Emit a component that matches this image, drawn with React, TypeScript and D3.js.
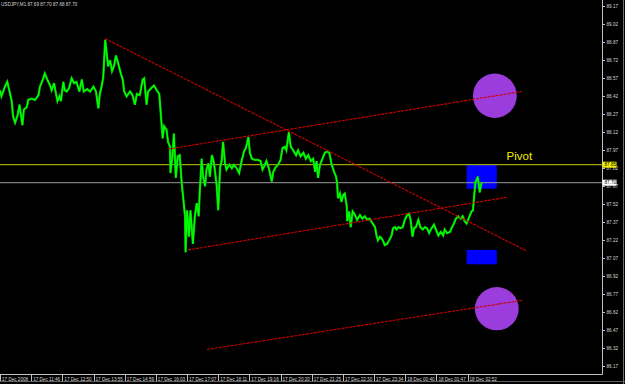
import React from "react";
import * as d3 from "d3";

const chartTitle = "USDJPY,M1  87.69 87.70 87.68 87.70";

// [minute offset from 17 Dec 10:42, close]
const priceSeries: [number, number][] = [
  [0, 88.47], [3, 88.42], [10, 88.5], [15, 88.54], [19, 88.47], [24, 88.38], [27, 88.25], [31, 88.2],
  [36, 88.26], [40, 88.35], [42, 88.29], [46, 88.18], [49, 88.31], [55, 88.33], [58, 88.39], [65, 88.4],
  [72, 88.39], [79, 88.43], [82, 88.5], [88, 88.56], [92, 88.61], [97, 88.56], [103, 88.51], [106, 88.47],
  [111, 88.53], [115, 88.44], [118, 88.38], [122, 88.42], [125, 88.38], [130, 88.54], [133, 88.47], [137, 88.46],
  [142, 88.49], [147, 88.57], [152, 88.53], [157, 88.54], [163, 88.46], [168, 88.56], [172, 88.46], [179, 88.48],
  [185, 88.46], [192, 88.5], [197, 88.46], [202, 88.32], [205, 88.44], [209, 88.51], [212, 88.58], [216, 88.89],
  [219, 88.78], [222, 88.67], [226, 88.72], [230, 88.63], [234, 88.67], [238, 88.76], [243, 88.69], [248, 88.61],
  [252, 88.56], [255, 88.46], [260, 88.42], [267, 88.46], [272, 88.43], [277, 88.35], [281, 88.44], [287, 88.43],
  [293, 88.56], [296, 88.57], [301, 88.35], [304, 88.46], [311, 88.49], [316, 88.51], [322, 88.47], [327, 88.44],
  [330, 88.28], [334, 88.07], [337, 88.17], [342, 88.14], [345, 88.04], [349, 88.0], [350, 87.78], [354, 87.92],
  [357, 88.11], [361, 87.74], [365, 87.92], [369, 87.93], [373, 87.7], [376, 87.58], [380, 87.42], [381, 87.12],
  [384, 87.47], [388, 87.25], [391, 87.47], [396, 87.19], [400, 87.42], [404, 87.53], [408, 87.42],
  [410, 87.61], [414, 87.9], [417, 87.75], [421, 87.67], [424, 87.81], [428, 87.86], [431, 87.75], [435, 87.93],
  [438, 87.89], [441, 87.81], [445, 87.67], [448, 87.47], [452, 87.83], [455, 87.88], [458, 88.04], [462, 87.86],
  [465, 87.81], [471, 87.85], [476, 87.82], [480, 87.85], [486, 87.82], [491, 87.78], [496, 87.88], [501, 87.96],
  [505, 87.99], [510, 88.08], [513, 87.95], [517, 87.9], [523, 87.89], [530, 87.89], [535, 87.88], [539, 87.81],
  [544, 87.85], [547, 87.88], [552, 87.82], [558, 87.71], [561, 87.79], [566, 87.83], [571, 87.85], [576, 87.89],
  [580, 87.99], [585, 88.0], [588, 87.97], [593, 88.12], [597, 88.0], [602, 87.97], [608, 87.93], [612, 87.97],
  [617, 87.92], [623, 87.95], [628, 87.9], [633, 87.93], [638, 87.88], [643, 87.9], [647, 87.79], [650, 87.88],
  [653, 87.74], [657, 87.85], [662, 87.9], [667, 87.95], [672, 87.96], [676, 87.95],
  [681, 87.85], [686, 87.79], [690, 87.75], [692, 87.7], [694, 87.57], [698, 87.61], [701, 87.54], [705, 87.6],
  [708, 87.61], [712, 87.5], [713, 87.38], [717, 87.46], [720, 87.33], [724, 87.46], [729, 87.43], [733, 87.39],
  [739, 87.43], [744, 87.4], [749, 87.42], [754, 87.39], [759, 87.4], [765, 87.36], [770, 87.33], [773, 87.26],
  [776, 87.22], [780, 87.25], [783, 87.24], [787, 87.21], [790, 87.18], [795, 87.19], [799, 87.22], [804, 87.26],
  [807, 87.32], [811, 87.33], [814, 87.31], [818, 87.33], [822, 87.32], [827, 87.33], [831, 87.39], [836, 87.43],
  [840, 87.44], [843, 87.39], [847, 87.25], [850, 87.32], [854, 87.33], [859, 87.39], [863, 87.33], [868, 87.31],
  [872, 87.33], [877, 87.32], [881, 87.28], [886, 87.32], [891, 87.35], [895, 87.31], [900, 87.26], [905, 87.29],
  [910, 87.26], [913, 87.31], [918, 87.28], [924, 87.29], [927, 87.32], [932, 87.36], [936, 87.4], [941, 87.42],
  [946, 87.4], [950, 87.42], [954, 87.38], [958, 87.36], [961, 87.39], [965, 87.43], [968, 87.46], [971, 87.47],
  [974, 87.61], [976, 87.7], [978, 87.72], [981, 87.75], [983, 87.68], [985, 87.62], [987, 87.67], [989, 87.7],
];

const priceTicks = [
  89.17, 89.02, 88.87, 88.72, 88.57, 88.42, 88.27, 88.12, 87.97, 87.82, 87.67,
  87.52, 87.37, 87.22, 87.07, 86.92, 86.77, 86.62, 86.47, 86.32, 86.17,
];

const timeTickBars = [0, 64, 128, 192, 256, 320, 384, 448, 512, 576, 640, 704, 768, 832, 896, 960];
const timeTickLabels = [
  "17 Dec 2008", "17 Dec 11:46", "17 Dec 12:50", "17 Dec 13:55", "17 Dec 14:59", "17 Dec 16:03",
  "17 Dec 17:07", "17 Dec 18:11", "17 Dec 19:16", "17 Dec 20:20", "17 Dec 21:25", "17 Dec 22:30",
  "17 Dec 23:34", "18 Dec 00:40", "18 Dec 01:47", "18 Dec 02:52",
];

const pivotLevel = 87.85;
const bidLevel = 87.7;

// [bar1, price1, bar2, price2]
const trendLines: [number, number, number, number][] = [
  [216, 88.9, 1082, 87.13],
  [345, 87.98, 1071, 88.46],
  [386, 87.14, 1043, 87.58],
  [425, 86.31, 1073, 86.72],
];

// [bar1, priceTop, bar2, priceBottom]
const zoneRects: [number, number, number, number][] = [
  [958, 87.85, 1020, 87.65],
  [958, 87.14, 1020, 87.02],
];

const ellipseBoxes: [number, number, number, number][] = [
  [971, 88.61, 1061, 88.24],
  [975, 86.83, 1065, 86.47],
];

const pivotText = "Pivot";
const pivotTextAnchor: [number, number] = [1040, 87.89];

const W = 625;
const H = 384;
const PR = 602;
const PB = 374;

export default function App() {
  const x = d3.scaleLinear().domain([0, 1236]).range([0, PR]);
  const y = d3.scaleLinear().domain([88.72, 86.17]).range([60.3, 366.3]);
  const line = d3
    .line<[number, number]>()
    .x((d) => x(d[0]))
    .y((d) => y(d[1]));
  const path = line(priceSeries) || "";
  const font = "'Liberation Sans', Arial, sans-serif";
  const fs = 4.6;
  const txt = "#d8d8d8";

  return (
    <div style={{ position: "absolute", left: 0, top: 0 }}>
      <svg width={W} height={H} style={{ display: "block", background: "#000" }}>
        <rect x={0} y={0} width={W} height={H} fill="#000" />
        <defs>
          <clipPath id="plot">
            <rect x={0} y={0} width={PR} height={PB} />
          </clipPath>
        </defs>
        <g clipPath="url(#plot)">
          {zoneRects.map((r, i) => (
            <rect
              key={"z" + i}
              x={x(r[0])}
              y={y(r[1])}
              width={x(r[2]) - x(r[0])}
              height={y(r[3]) - y(r[1])}
              fill="#0000ff"
            />
          ))}
          {ellipseBoxes.map((e, i) => (
            <ellipse
              key={"e" + i}
              cx={(x(e[0]) + x(e[2])) / 2}
              cy={(y(e[1]) + y(e[3])) / 2}
              rx={(x(e[2]) - x(e[0])) / 2}
              ry={(y(e[3]) - y(e[1])) / 2}
              fill="#9b3cdc"
            />
          ))}
          <line x1={0} x2={PR} y1={y(pivotLevel)} y2={y(pivotLevel)} stroke="#c8c800" strokeWidth={1} />
          <line x1={0} x2={PR} y1={y(bidLevel)} y2={y(bidLevel)} stroke="#9a9a9a" strokeWidth={1} />
          <path d={path} fill="none" stroke="#00a800" strokeWidth={2.3} strokeLinejoin="miter" />
          <path d={path} fill="none" stroke="#00ff00" strokeWidth={1.4} strokeLinejoin="miter" />
          {trendLines.map((t, i) => (
            <line
              key={"t" + i}
              x1={x(t[0])}
              y1={y(t[1])}
              x2={x(t[2])}
              y2={y(t[3])}
              stroke="#d00000"
              strokeWidth={1.1}
              strokeDasharray="3 1"
            />
          ))}
          <text
            x={x(pivotTextAnchor[0])}
            y={y(pivotTextAnchor[1])}
            fill="#f0f000"
            fontFamily={font}
            fontSize={11.5}
          >
            {pivotText}
          </text>
        </g>

        <text x={1} y={5.8} fill={txt} fontFamily={font} fontSize={fs}>
          {chartTitle}
        </text>

        {/* frame */}
        <line x1={0} x2={PR + 0.5} y1={PB + 0.5} y2={PB + 0.5} stroke="#c0c0c0" strokeWidth={1} />
        <line x1={PR + 0.5} x2={PR + 0.5} y1={0} y2={PB + 0.5} stroke="#c0c0c0" strokeWidth={1} />

        {/* price axis */}
        {priceTicks.map((p) => (
          <g key={"p" + p}>
            <line x1={PR} x2={PR + 3} y1={Math.round(y(p)) + 0.5} y2={Math.round(y(p)) + 0.5} stroke="#c0c0c0" />
            <text x={PR + 4.5} y={y(p) + 1.7} fill={txt} fontFamily={font} fontSize={fs}>
              {p.toFixed(2)}
            </text>
          </g>
        ))}
        <rect x={PR + 0.5} y={y(pivotLevel) - 3} width={14} height={6} fill="#f0f000" />
        <text x={PR + 2.5} y={y(pivotLevel) + 1.7} fill="#000" fontFamily={font} fontSize={fs}>
          {pivotLevel.toFixed(2)}
        </text>
        <rect x={PR + 0.5} y={y(bidLevel) - 3} width={14} height={6} fill="#ffffff" />
        <text x={PR + 2.5} y={y(bidLevel) + 1.7} fill="#000" fontFamily={font} fontSize={fs}>
          {bidLevel.toFixed(2)}
        </text>

        {/* time axis */}
        {timeTickBars.map((b, i) => (
          <g key={"b" + b}>
            <line x1={Math.round(x(b)) + 0.5} x2={Math.round(x(b)) + 0.5} y1={PB} y2={PB + 7} stroke="#c0c0c0" />
            <text x={x(b) + 2} y={PB + 6.8} fill={txt} fontFamily={font} fontSize={fs}>
              {timeTickLabels[i]}
            </text>
          </g>
        ))}
        <line x1={W - 1.5} x2={W - 1.5} y1={0} y2={H} stroke="#707070" />
        <line x1={0} x2={W} y1={H - 2.5} y2={H - 2.5} stroke="#606060" />
      </svg>
    </div>
  );
}
